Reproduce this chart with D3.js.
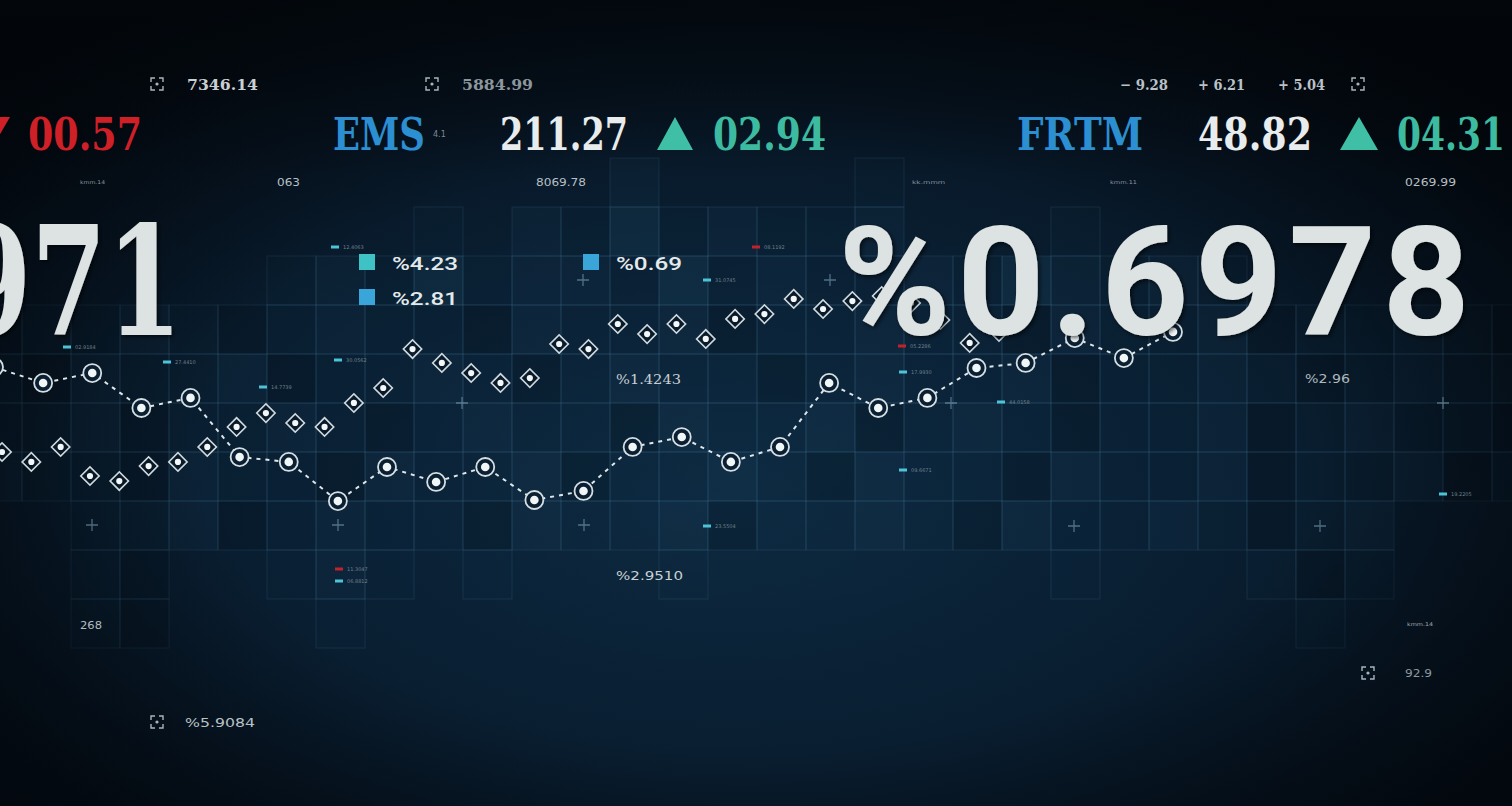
<!DOCTYPE html>
<html><head><meta charset="utf-8">
<script src="https://cdn.jsdelivr.net/npm/d3@7"></script>
<style>html,body{margin:0;padding:0;background:#050d16;overflow:hidden}svg{display:block}</style>
</head><body>
<svg id="c" width="1512" height="806"></svg>
<script>
// ================= DATA =================
const diamondSeries = [30.9, 26.4, 33.2, 20.0, 17.7, 24.5, 26.4, 33.2, 42.3, 48.6, 44.1, 42.3, 53.2, 60.0, 77.7, 71.4, 66.8, 62.3, 64.5, 80.0, 77.7, 89.1, 84.5, 89.1, 82.3, 91.4, 93.6, 100.5, 95.9, 99.5, 101.8, 98.6, 90.9, 80.5, 85.5];
const circleSeries = [69.5, 62.3, 66.8, 50.9, 55.5, 28.6, 26.4, 8.6, 24.1, 17.3, 24.1, 9.1, 13.2, 33.2, 37.7, 26.4, 33.2, 62.3, 50.9, 55.5, 69.1, 71.4, 82.7, 73.6, 85.5];
const tickers = ["EMS", "FRTM"];
const tickerPrices = ["211.27", "48.82"];
const tickerChanges = ["02.94", "04.31"];
const leftChange = "00.57";
const headline = ["971", "%0.6978"];
const legendValues = ["%4.23", "%2.81", "%0.69"];
const topReadings = ["7346.14", "5884.99", "− 9.28", "+ 6.21", "+ 5.04"];
const subReadings = ["063", "8069.78", "0269.99"];
const midReadings = ["%1.4243", "%2.9510", "%2.96", "268", "%5.9084", "92.9"];
const tinyCaptions = ["12.4063", "08.1192", "31.0745", "05.2286", "17.9930", "44.0158", "09.6671", "23.5504", "11.3047", "06.8812", "19.2205", "27.4410", "14.7739", "30.0562", "02.9184"];

// ================= LAYOUT (decor) =================
const W = 1512, H = 806;
const tileX0 = -27, tileY0 = 158, tile = 49;
const tileRows = [
  ".............2....1.............",
  ".........1.21312112...1.........",
  "......12131221312112132121......",
  "01121012110211201121102112011210",
  "10211201121012110121120112101211",
  "11201121012110211201210112012110",
  "21102110211201121021102112011201",
  "..112012110211201121021121012...",
  "..10..121.1...1.......1...101...",
  "..10...1...................1...."
];
const plusPos = [[462,403],[92,525],[338,525],[584,525],[583,280],[830,280],[951,403],[1443,403],[1074,526],[1320,526]];
const dashPos = [[335,247,"c"],[756,247,"r"],[707,280,"c"],[902,346,"r"],[903,372,"c"],[1001,402,"c"],[903,470,"c"],[707,526,"c"],[339,569,"r"],[339,581,"c"],[1443,494,"c"],[167,362,"c"],[263,387,"c"],[338,360,"c"],[67,347,"c"]];
const iconPos = [[157,84],[432,84],[1358,84],[157,722],[1368,673]];

const svg = d3.select('#c');
const defs = svg.append('defs');

function radial(id, cx, cy, r, stops) {
  const g = defs.append('radialGradient').attr('id', id).attr('cx', cx).attr('cy', cy).attr('r', r);
  stops.forEach(([o, c, a]) => g.append('stop').attr('offset', o).attr('stop-color', c).attr('stop-opacity', a === undefined ? 1 : a));
}
radial('bg', '48%', '62%', '72%', [[0, '#0d2a41'], [0.45, '#0a2034'], [0.8, '#071523'], [1, '#03070c']]);
radial('vig', '50%', '56%', '62%', [[0, '#02060b', 0], [0.6, '#02060b', 0.08], [1, '#02060b', 0.8]]);
const lg = defs.append('linearGradient').attr('id', 'topfade').attr('x1', 0).attr('y1', 0).attr('x2', 0).attr('y2', 1);
lg.append('stop').attr('offset', 0).attr('stop-color', '#03070c').attr('stop-opacity', 0.6);
lg.append('stop').attr('offset', 0.22).attr('stop-color', '#03070c').attr('stop-opacity', 0);
const sh = defs.append('filter').attr('id', 'sh').attr('x', '-10%').attr('y', '-10%').attr('width', '120%').attr('height', '130%');
sh.append('feDropShadow').attr('dx', 2).attr('dy', 2).attr('stdDeviation', 2).attr('flood-color', '#000').attr('flood-opacity', 0.6);

svg.append('rect').attr('width', W).attr('height', H).attr('fill', 'url(#bg)');

// grid tiles
const cells = [];
tileRows.forEach((row, r) => row.split('').forEach((ch, c) => { if (ch !== '.') cells.push({ r, c, s: +ch }); }));
const shadeFill = ['rgba(0,0,0,0.10)', 'rgba(40,100,140,0.03)', 'rgba(55,125,165,0.065)', 'rgba(65,145,185,0.11)'];
svg.append('g').selectAll('rect').data(cells).join('rect')
  .attr('x', d => tileX0 + d.c * tile).attr('y', d => tileY0 + d.r * tile)
  .attr('width', tile).attr('height', tile)
  .attr('fill', d => shadeFill[d.s])
  .attr('stroke', 'rgba(85,150,185,0.17)').attr('stroke-width', 1);

svg.append('rect').attr('width', W).attr('height', H).attr('fill', 'url(#vig)');
svg.append('rect').attr('width', W).attr('height', H).attr('fill', 'url(#topfade)');

// plus marks
svg.append('g').selectAll('path').data(plusPos).join('path')
  .attr('d', d => `M${d[0]-6},${d[1]}H${d[0]+6}M${d[0]},${d[1]-6}V${d[1]+6}`)
  .attr('stroke', 'rgba(150,190,210,0.5)').attr('stroke-width', 1.3);

// tiny legend dashes
const dg = svg.append('g').selectAll('g').data(dashPos).join('g').attr('transform', d => `translate(${d[0]},${d[1]})`);
dg.append('rect').attr('x', -4).attr('y', -1.5).attr('width', 8).attr('height', 3).attr('fill', d => d[2] === 'r' ? '#c4222a' : '#4cc3d6');
dg.append('text').attr('x', 8).attr('y', 2).attr('font-size', 5).attr('font-family', 'DejaVu Sans').attr('fill', '#6f808b')
  .text((d, i) => tinyCaptions[i % tinyCaptions.length]);

// scales
const xD = d3.scaleLinear().domain([0, diamondSeries.length - 1]).range([2, 999]);
const xC = d3.scaleLinear().domain([0, circleSeries.length - 1]).range([-6, 1173]);
const y = d3.scaleLinear().domain([0, 100]).range([520, 300]);

// dashed line (circle series)
svg.append('path').datum(circleSeries)
  .attr('d', d3.line().x((d, i) => xC(i)).y(d => y(d)))
  .attr('fill', 'none').attr('stroke', '#dfe7ea').attr('stroke-width', 2).attr('stroke-dasharray', '4 5');

// diamonds
const dm = svg.append('g').selectAll('g').data(diamondSeries).join('g')
  .attr('transform', (d, i) => `translate(${xD(i)},${y(d)})`);
dm.append('rect').attr('x', -6.5).attr('y', -6.5).attr('width', 13).attr('height', 13).attr('transform', 'rotate(45)')
  .attr('fill', 'rgba(8,24,38,0.75)').attr('stroke', '#cfd9de').attr('stroke-width', 1.6);
dm.append('circle').attr('r', 3.1).attr('fill', '#f3f7f8');

// circles
const cm = svg.append('g').selectAll('g').data(circleSeries).join('g')
  .attr('transform', (d, i) => `translate(${xC(i)},${y(d)})`);
cm.append('circle').attr('r', 9).attr('fill', '#0a1f32').attr('stroke', '#d5dee2').attr('stroke-width', 1.8);
cm.append('circle').attr('r', 4.3).attr('fill', '#f0f5f6');

// focus icons
const ic = svg.append('g').selectAll('g').data(iconPos).join('g').attr('transform', d => `translate(${d[0]},${d[1]})`);
ic.append('path').attr('d', 'M-6,-2V-6H-2M2,-6H6V-2M6,2V6H2M-2,6H-6V2').attr('fill', 'none').attr('stroke', '#aab5bb').attr('stroke-width', 1.4);
ic.append('circle').attr('r', 1.6).attr('fill', '#aab5bb');

// text helper
function txt(str, x, yy, o) {
  const t = svg.append('text').attr('x', x).attr('y', yy).text(str)
    .attr('font-family', o.font || 'DejaVu Serif').attr('font-size', o.size).attr('fill', o.fill || '#e6eaea');
  if (o.weight) t.attr('font-weight', o.weight);
  if (o.tl) t.attr('textLength', o.tl).attr('lengthAdjust', o.adj || 'spacingAndGlyphs');
  if (o.filter) t.attr('filter', o.filter);
  return t;
}

// top readings
txt(topReadings[0], 187, 90, { size: 15, tl: 71, fill: '#c9d0d4', weight: 'bold' });
txt(topReadings[1], 462, 90, { size: 15, tl: 71, fill: '#8c979d', weight: 'bold' });
txt(topReadings[2], 1120, 90, { size: 15, tl: 48, fill: '#b9c2c7', weight: 'bold' });
txt(topReadings[3], 1198, 90, { size: 15, tl: 47, fill: '#b9c2c7', weight: 'bold' });
txt(topReadings[4], 1278, 90, { size: 15, tl: 47, fill: '#b9c2c7', weight: 'bold' });

// ticker row
svg.append('path').attr('d', 'M-28,117L10,117L-9,150Z').attr('fill', '#cf1f27');
txt(leftChange, 28, 150, { size: 45, tl: 114, fill: '#cf1f27', weight: 'bold' });
txt(tickers[0], 333, 150, { size: 45, tl: 92, fill: '#2b8fd2', weight: 'bold' });
txt("4.1", 433, 137, { size: 8, fill: '#7d8a92', font: 'DejaVu Sans' });
txt(tickerPrices[0], 500, 150, { size: 45, tl: 128, fill: '#e8ecec', weight: 'bold' });
svg.append('path').attr('d', 'M657,150L675,117L693,150Z').attr('fill', '#3fbfa6');
txt(tickerChanges[0], 713, 150, { size: 45, tl: 113, fill: '#3dbba0', weight: 'bold' });
txt(tickers[1], 1017, 150, { size: 45, tl: 126, fill: '#2b8fd2', weight: 'bold' });
txt(tickerPrices[1], 1198, 150, { size: 45, tl: 114, fill: '#e8ecec', weight: 'bold' });
svg.append('path').attr('d', 'M1340,150L1359,117L1378,150Z').attr('fill', '#3fbfa6');
txt(tickerChanges[1], 1397, 150, { size: 45, tl: 108, fill: '#3dbba0', weight: 'bold' });

// sub readings
txt(subReadings[0], 277, 186, { size: 10, tl: 23, fill: '#b7c0c5', font: 'DejaVu Sans' });
txt(subReadings[1], 536, 186, { size: 10, tl: 50, fill: '#b7c0c5', font: 'DejaVu Sans' });
txt(subReadings[2], 1405, 186, { size: 10, tl: 51, fill: '#b7c0c5', font: 'DejaVu Sans' });
txt("kmm.14", 80, 184, { size: 5, tl: 25, fill: '#8894a0', font: 'DejaVu Sans' });
txt("kk.mmm", 912, 184, { size: 5, tl: 33, fill: '#8894a0', font: 'DejaVu Sans' });
txt("kmm.11", 1110, 184, { size: 5, tl: 27, fill: '#8894a0', font: 'DejaVu Sans' });
txt("kmm.14", 1407, 626, { size: 5, tl: 26, fill: '#a0aab2', font: 'DejaVu Sans' });

// legend
const legCols = ['#3fc2c6', '#3aa5d9', '#3aa5d9'];
const legXY = [[359, 254], [359, 289], [583, 254]];
svg.append('g').selectAll('rect').data(legendValues).join('rect')
  .attr('x', (d, i) => legXY[i][0]).attr('y', (d, i) => legXY[i][1]).attr('width', 16).attr('height', 16)
  .attr('fill', (d, i) => legCols[i]);
legendValues.forEach((v, i) => txt(v, legXY[i][0] + 33, legXY[i][1] + 16, { size: 18, tl: 66, font: 'Roboto', weight: 500, fill: '#e4e9ea' }));

// mid readings
txt(midReadings[0], 616, 384, { size: 13, tl: 65, fill: '#c7cfd3' });
txt(midReadings[1], 616, 580, { size: 13, tl: 67, fill: '#c7cfd3', font: 'DejaVu Sans' });
txt(midReadings[2], 1305, 383, { size: 13, tl: 45, fill: '#aeb8bd', font: 'DejaVu Sans' });
txt(midReadings[3], 80, 629, { size: 11, tl: 22, fill: '#b3bcc1', font: 'DejaVu Sans' });
txt(midReadings[4], 185, 727, { size: 13, tl: 70, fill: '#b9c2c6', font: 'DejaVu Sans' });
txt(midReadings[5], 1405, 677, { size: 10, tl: 27, fill: '#8f9aa0', font: 'DejaVu Sans' });

// headline numbers
txt(headline[0], -44, 335, { size: 151, tl: 226, fill: '#dde2e2', weight: 'bold', filter: 'url(#sh)' });
txt(headline[1], 838, 335, { size: 153, tl: 632, adj: 'spacing', fill: '#dde2e2', font: 'Roboto', weight: 'bold', filter: 'url(#sh)' });
</script>
</body></html>
